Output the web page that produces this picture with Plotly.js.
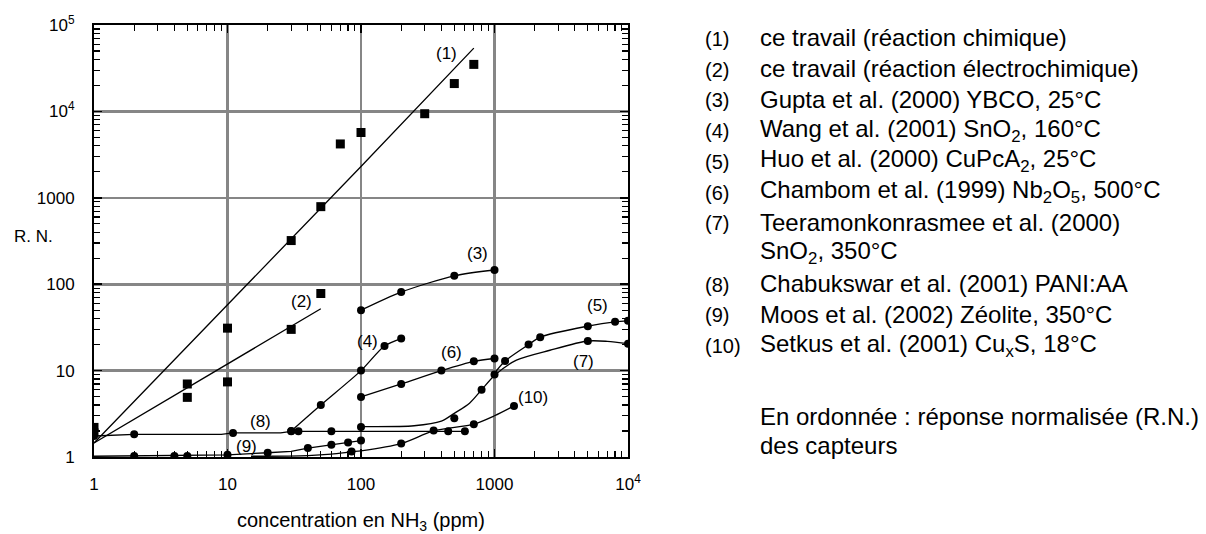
<!DOCTYPE html>
<html>
<head>
<meta charset="utf-8">
<script src="https://cdn.plot.ly/plotly-3.0.1.min.js"></script>
<style>html,body{margin:0;padding:0;background:#fff;}#chart{width:1206px;height:534px;}</style>
</head>
<body>
<div id="chart"></div>
<script>
// ---- data ----
const xTickVals = [1, 10, 100, 1000, 10000];
const xTickText = ['1', '10', '100', '1000', '10<sup>4</sup>'];
const yTickVals = [1, 10, 100, 1000, 10000, 100000];
const yTickText = ['1', '10', '100', '1000', '10<sup>4</sup>', '10<sup>5</sup>'];

// (1) ce travail (réaction chimique)
const s1MarkX = [1, 10, 30, 50, 70, 100, 300, 500, 700];
const s1MarkY = [2.2, 31, 320, 790, 4200, 5700, 9400, 21000, 35000];
const s1FitX = [1, 10, 100, 700];
const s1FitY = [1.45, 57, 2300, 54000];
// (2) ce travail (réaction électrochimique)
const s2MarkX = [1, 5, 5, 10, 30, 50];
const s2MarkY = [1.9, 7, 4.9, 7.4, 30, 78];
const s2FitX = [1, 10, 50];
const s2FitY = [1.45, 12, 52];
// (3) Gupta
const s3X = [100, 200, 500, 1000];
const s3Y = [50, 81, 125, 146];
// (4) Wang
const s4X = [30, 50, 100, 150, 200];
const s4Y = [2.0, 4.0, 10, 19.3, 23.5];
// (5) Huo
const s5MarkX = [1200, 1800, 2200, 5000, 8000, 10000];
const s5MarkY = [12.9, 20, 24.4, 32.7, 36.7, 37.7];
const s5CurveX = [1000, 1200, 1800, 2200, 5000, 8000, 10000];
const s5CurveY = [9.3, 12.9, 20, 24.4, 32.7, 36.7, 37.7];
// (6) Chambom
const s6X = [100, 200, 400, 700, 1000];
const s6Y = [4.96, 7.0, 10, 12.8, 13.8];
// (7) Teeramonkonrasmee
const s7MarkX = [100, 500, 800, 1000, 5000, 10000];
const s7MarkY = [2.23, 2.8, 6.0, 9.0, 22, 20.5];
const s7CurveX = [100, 250, 400, 500, 650, 800, 1000, 1460, 2600, 5000, 7000, 10000];
const s7CurveY = [2.25, 2.3, 2.6, 3.2, 4.2, 6.0, 8.8, 13.2, 17.2, 22, 21.8, 20.5];
// (8) Chabukswar
const s8MarkX = [1, 2, 11, 30, 34, 60, 450, 600];
const s8MarkY = [1.75, 1.83, 1.9, 1.98, 1.98, 1.98, 1.98, 1.98];
const s8CurveX = [1, 2, 9, 11, 25, 30, 600];
const s8CurveY = [1.75, 1.83, 1.83, 1.9, 1.9, 1.98, 1.98];
// (9) Moos
const s9MarkX = [2, 4, 5, 10, 20, 40, 60, 80, 100];
const s9MarkY = [1.03, 1.03, 1.03, 1.06, 1.12, 1.27, 1.39, 1.47, 1.55];
const s9CurveX = [1, 2, 10, 20, 30, 40, 60, 80, 100];
const s9CurveY = [1.02, 1.03, 1.06, 1.12, 1.16, 1.27, 1.39, 1.47, 1.55];
// (10) Setkus
const s10MarkX = [85, 200, 350, 700, 1400];
const s10MarkY = [1.16, 1.43, 2.02, 2.39, 3.9];
const s10CurveX = [15, 40, 60, 85, 100, 200, 350, 700, 1000, 1400];
const s10CurveY = [1.02, 1.04, 1.08, 1.15, 1.18, 1.43, 2.0, 2.4, 3.0, 3.9];

// curve labels (text) and the data point they sit at
const curveLabels = ['(1)', '(2)', '(3)', '(4)', '(5)', '(6)', '(7)', '(8)', '(9)', '(10)'];
const labelX = [437, 36, 743, 112, 5890, 478, 4680, 17.8, 13.9, 1954];
const labelY = [47200, 62.5, 227, 21.9, 56, 16, 12.6, 2.59, 1.33, 4.88];

// legend list on the right
const legendNums = ['(1)', '(2)', '(3)', '(4)', '(5)', '(6)', '(7)', '', '(8)', '(9)', '(10)'];
const legendTexts = [
  'ce travail (réaction chimique)',
  'ce travail (réaction électrochimique)',
  'Gupta et al. (2000) YBCO, 25°C',
  'Wang et al. (2001) SnO<sub>2</sub>, 160°C',
  'Huo et al. (2000) CuPcA<sub>2</sub>, 25°C',
  'Chambom et al. (1999) Nb<sub>2</sub>O<sub>5</sub>, 500°C',
  'Teeramonkonrasmee et al. (2000)',
  'SnO<sub>2</sub>, 350°C',
  'Chabukswar et al. (2001) PANI:AA',
  'Moos et al. (2002) Zéolite, 350°C',
  'Setkus et al. (2001) Cu<sub>x</sub>S, 18°C'
];
const noteLines = ['En ordonnée : réponse normalisée (R.N.)', 'des capteurs'];

// ---- drawing ----
const FONT = '"Liberation Sans", Arial, Helvetica, sans-serif';
const PL = 94, PR = 628, PT = 25, PB = 457;
const pxX = p => (p - PL) / (PR - PL);
const pxY = p => (PB - p) / (PB - PT);

const lineStyle = {color: '#000', width: 1.3};
const sq = {symbol: 'square', size: 9, color: '#000'};
const dot = {symbol: 'circle', size: 8, color: '#000'};

function curve(x, y, shape) {
  return {x, y, type: 'scatter', mode: 'lines', line: Object.assign({shape: shape || 'linear', smoothing: 0.8}, lineStyle), hoverinfo: 'skip'};
}
function marks(x, y, m) {
  return {x, y, type: 'scatter', mode: 'markers', marker: m, hoverinfo: 'skip'};
}

const traces = [
  curve(s1FitX, s1FitY), marks(s1MarkX, s1MarkY, sq),
  curve(s2FitX, s2FitY), marks(s2MarkX, s2MarkY, sq),
  curve(s3X, s3Y, 'spline'), marks(s3X, s3Y, dot),
  curve(s4X, s4Y, 'spline'), marks(s4X, s4Y, dot),
  curve(s5CurveX, s5CurveY, 'spline'), marks(s5MarkX, s5MarkY, dot),
  curve(s6X, s6Y, 'spline'), marks(s6X, s6Y, dot),
  curve(s7CurveX, s7CurveY, 'spline'), marks(s7MarkX, s7MarkY, dot),
  curve(s8CurveX, s8CurveY), marks(s8MarkX, s8MarkY, dot),
  curve(s9CurveX, s9CurveY), marks(s9MarkX, s9MarkY, dot),
  curve(s10CurveX, s10CurveY, 'spline'), marks(s10MarkX, s10MarkY, dot)
];

const annotations = [];
curveLabels.forEach((t, i) => {
  annotations.push({x: Math.log10(labelX[i]), y: Math.log10(labelY[i]), xref: 'x', yref: 'y',
    text: t, showarrow: false, font: {family: FONT, size: 17, color: '#000'},
    xanchor: 'center', yanchor: 'middle'});
});
const rowTop = 38, rowStep = 30.7;
legendTexts.forEach((t, i) => {
  const py = rowTop + i * rowStep;
  if (legendNums[i]) {
    annotations.push({x: pxX(703), y: pxY(py + 1), xref: 'paper', yref: 'paper', text: legendNums[i],
      showarrow: false, xanchor: 'left', yanchor: 'middle', font: {family: FONT, size: 20, color: '#000'}});
  }
  annotations.push({x: pxX(758), y: pxY(py), xref: 'paper', yref: 'paper', text: t,
    showarrow: false, xanchor: 'left', yanchor: 'middle', font: {family: FONT, size: 24, color: '#000'}});
});
noteLines.forEach((t, i) => {
  annotations.push({x: pxX(758), y: pxY(416 + i * 29), xref: 'paper', yref: 'paper', text: t,
    showarrow: false, xanchor: 'left', yanchor: 'middle', font: {family: FONT, size: 24, color: '#000'}});
});
annotations.push({x: pxX(33), y: pxY(236), xref: 'paper', yref: 'paper', text: 'R. N.',
  showarrow: false, xanchor: 'center', yanchor: 'middle', font: {family: FONT, size: 17, color: '#000'}});
annotations.push({x: pxX(361), y: pxY(521), xref: 'paper', yref: 'paper', text: 'concentration en NH<sub>3</sub> (ppm)',
  showarrow: false, xanchor: 'center', yanchor: 'middle', font: {family: FONT, size: 20, color: '#000'}});

const axisCommon = {
  type: 'log', showline: true, linecolor: '#000', linewidth: 2, mirror: 'ticks',
  ticks: 'inside', ticklen: 8, tickwidth: 1.5, tickcolor: '#000',
  showgrid: true, gridcolor: '#868686', gridwidth: 2.6, zeroline: false,
  tickmode: 'array', tickfont: {family: FONT, size: 17, color: '#000'},
  minor: {ticks: 'inside', ticklen: 6, tickwidth: 1.2, tickcolor: '#000', dtick: 'D1', showgrid: false}
};

const layout = {
  width: 1206, height: 534,
  margin: {l: PL, r: 1206 - PR, t: PT, b: 534 - PB, pad: 0},
  paper_bgcolor: '#fff', plot_bgcolor: '#fff',
  showlegend: false,
  font: {family: FONT, color: '#000'},
  xaxis: Object.assign({}, axisCommon, {range: [0, 4], tickvals: xTickVals, ticktext: xTickText, ticklabelstandoff: 11}),
  yaxis: Object.assign({}, axisCommon, {range: [0, 5], tickvals: yTickVals, ticktext: yTickText, ticklabelstandoff: 14}),
  annotations
};

Plotly.newPlot('chart', traces, layout, {staticPlot: true});
</script>
</body>
</html>
